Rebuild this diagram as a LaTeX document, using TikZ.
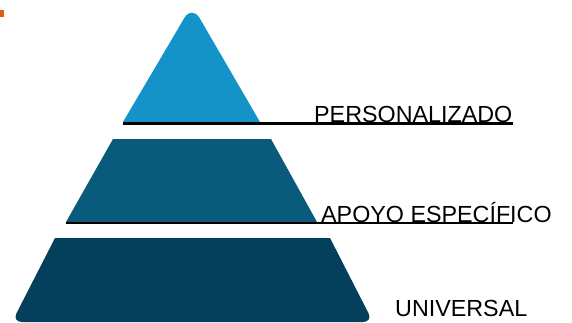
\documentclass[tikz,border=0pt]{standalone}
\usepackage{fontspec}
\setmainfont{Liberation Sans}
\usetikzlibrary{positioning}
\definecolor{tiertop}{HTML}{1393C7}
\definecolor{tiermid}{HTML}{0A5B7B}
\definecolor{tierbase}{HTML}{043F5B}
\definecolor{cornermark}{HTML}{E05A10}
\tikzset{
  tiertext/.style={anchor=base west, inner sep=0pt, font=\fontsize{23.3}{23.3}\selectfont},
  underline/.style={line width=2.3pt, black},
}

\begin{document}
\begin{tikzpicture}[x=1pt,y=-1pt]
    \useasboundingbox (0,0) rectangle (572,322);
    \fill [cornermark] (0,10) rectangle (4,17);
    % the three tiers
    \fill [tiertop] (123,122) [rounded corners=15pt] -- (192,5) [sharp corners] -- (260,122) -- cycle;
    \fill [tiermid] (113,139) -- (271,139) -- (317,222) -- (66,222) -- cycle;
    \fill [tierbase] (55,238) -- (330,238) [rounded corners=10pt] -- (373,322) -- (12,322) [sharp corners] -- cycle;
    % labels
    \node [tiertext] (perso) at (314,122) {PERSONALIZADO};
    \node [tiertext] (apoyo) at (321,222) {APOYO ESPECÍFICO};
    \node [tiertext] (univ) at (395,316) {UNIVERSAL};
    \coordinate (perso-u) at (123,123.5);
    \coordinate (apoyo-u) at (66,223);
    \coordinate (apoyo-e) at (513,223);
    \draw [underline] (perso-u) -- (perso-u -| perso.east);
    \draw [underline] (apoyo-u) -- (apoyo-e);
\end{tikzpicture}
\end{document}
